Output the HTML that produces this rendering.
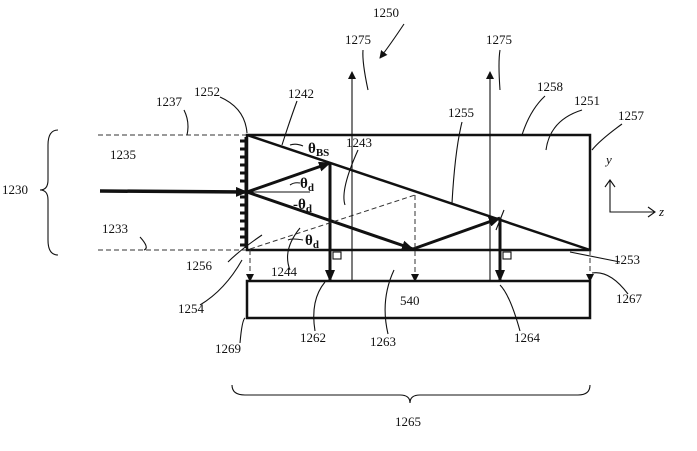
<!DOCTYPE html>
<html><head><style>
body{margin:0;background:#fff}
svg{display:block}
text{font-family:"Liberation Serif",serif;font-size:13px;fill:#111}
.t{stroke:#111;stroke-width:1.1;fill:none}
.k{stroke:#111;stroke-width:3;fill:none}
.m{stroke:#111;stroke-width:2.5;fill:none}
.d{stroke:#333;stroke-width:1;fill:none;stroke-dasharray:5,3}
</style></head><body>
<svg width="697" height="451" viewBox="0 0 697 451" xmlns="http://www.w3.org/2000/svg">
<defs>
<marker id="a" markerWidth="8" markerHeight="8" refX="7" refY="4" orient="auto" markerUnits="userSpaceOnUse"><path d="M0,0 L8,4 L0,8z" fill="#111"/></marker>
<marker id="b" markerWidth="12" markerHeight="10" refX="11" refY="5" orient="auto" markerUnits="userSpaceOnUse"><path d="M0,0 L12,5 L0,10z" fill="#111"/></marker>
</defs>
<rect x="247" y="135" width="343" height="115" class="m"/>
<rect x="247" y="281" width="343" height="37" class="m"/>
<text x="400" y="305">540</text>
<line x1="98" y1="135" x2="246" y2="135" class="d"/>
<line x1="98" y1="250" x2="246" y2="250" class="d"/>
<g stroke="#111" stroke-width="3">
<line x1="246" y1="137" x2="246" y2="248"/>
<line x1="240" y1="141" x2="246" y2="141"/><line x1="240" y1="149" x2="246" y2="149"/><line x1="240" y1="157" x2="246" y2="157"/><line x1="240" y1="165" x2="246" y2="165"/><line x1="240" y1="173" x2="246" y2="173"/><line x1="240" y1="181" x2="246" y2="181"/><line x1="240" y1="197" x2="246" y2="197"/><line x1="240" y1="205" x2="246" y2="205"/><line x1="240" y1="213" x2="246" y2="213"/><line x1="240" y1="221" x2="246" y2="221"/><line x1="240" y1="229" x2="246" y2="229"/><line x1="240" y1="237" x2="246" y2="237"/><line x1="240" y1="245" x2="246" y2="245"/>
</g>
<line x1="247" y1="135" x2="590" y2="250" class="m"/>
<line x1="100" y1="191" x2="247" y2="192" class="k" style="stroke-width:3.5" marker-end="url(#b)"/>
<line x1="247" y1="192" x2="330" y2="163" class="k" marker-end="url(#b)"/>
<line x1="247" y1="192" x2="413" y2="249" class="k" marker-end="url(#b)"/>
<line x1="413" y1="249" x2="500" y2="218" class="k" marker-end="url(#b)"/>
<line x1="330" y1="163" x2="330" y2="281" class="k" marker-end="url(#b)"/>
<line x1="500" y1="218" x2="500" y2="281" class="k" marker-end="url(#b)"/>
<line x1="247" y1="192" x2="310" y2="192" class="t"/>
<line x1="250" y1="249" x2="415" y2="195" class="d"/>
<line x1="415" y1="195" x2="415" y2="281" class="d" marker-end="url(#a)"/>
<line x1="250" y1="250" x2="250" y2="281" class="d" marker-end="url(#a)"/>
<line x1="590" y1="250" x2="590" y2="281" class="d" marker-end="url(#a)"/>
<rect x="333" y="252" width="8" height="7" class="t"/>
<rect x="503" y="252" width="8" height="7" class="t"/>
<line x1="352" y1="281" x2="352" y2="72" class="t" marker-end="url(#a)"/>
<line x1="490" y1="281" x2="490" y2="72" class="t" marker-end="url(#a)"/>
<line x1="496" y1="230" x2="504" y2="210" class="t"/>
<text x="308" y="153" style="font-size:15px;font-weight:bold">θ<tspan font-size="11" dy="3">BS</tspan></text>
<text x="300" y="188" style="font-size:15px;font-weight:bold">θ<tspan font-size="11" dy="3">d</tspan></text>
<text x="293" y="209" style="font-size:15px;font-weight:bold">-θ<tspan font-size="11" dy="3">d</tspan></text>
<text x="305" y="245" style="font-size:15px;font-weight:bold">θ<tspan font-size="11" dy="3">d</tspan></text>
<path d="M290,145 Q296,143 303,146" class="t"/>
<path d="M290,185 Q294,182 300,183" class="t"/>
<path d="M288,240 Q292,238 303,240" class="t"/>
<path d="M610,180 L610,212 L655,212" class="t"/>
<path d="M605,187 L610,180 L615,187" class="t"/>
<path d="M648,207 L655,212 L648,217" class="t"/>
<text x="606" y="164" style="font-style:italic">y</text>
<text x="659" y="216" style="font-style:italic">z</text>
<path d="M58,130 Q48,130 48,145 L48,180 Q48,190 40,190 Q48,190 48,200 L48,240 Q48,255 58,255" class="t"/>
<path d="M232,385 Q232,395 245,395 L400,395 Q410,395 410,403 Q410,395 420,395 L578,395 Q590,395 590,385" class="t"/>
<text x="2" y="194">1230</text>
<text x="110" y="159">1235</text>
<text x="156" y="106">1237</text>
<text x="194" y="96">1252</text>
<text x="288" y="98">1242</text>
<text x="345" y="44">1275</text>
<text x="373" y="17">1250</text>
<text x="486" y="44">1275</text>
<text x="346" y="147">1243</text>
<text x="448" y="117">1255</text>
<text x="537" y="91">1258</text>
<text x="574" y="105">1251</text>
<text x="618" y="120">1257</text>
<text x="102" y="233">1233</text>
<text x="186" y="270">1256</text>
<text x="271" y="276">1244</text>
<text x="178" y="313">1254</text>
<text x="215" y="353">1269</text>
<text x="300" y="342">1262</text>
<text x="370" y="346">1263</text>
<text x="514" y="342">1264</text>
<text x="614" y="264">1253</text>
<text x="616" y="303">1267</text>
<text x="395" y="426">1265</text>
<path d="M184,110 Q190,122 187,135" class="t"/>
<path d="M220,97 Q245,108 247,133" class="t"/>
<path d="M297,101 Q290,120 282,145" class="t"/>
<path d="M363,50 Q362,62 368,90" class="t"/>
<path d="M404,24 Q390,45 380,58" class="t" marker-end="url(#a)"/>
<path d="M500,50 Q498,62 500,90" class="t"/>
<path d="M358,150 Q340,190 345,205" class="t"/>
<path d="M462,122 Q455,150 452,203" class="t"/>
<path d="M545,96 Q530,110 522,135" class="t"/>
<path d="M582,110 Q550,120 546,150" class="t"/>
<path d="M622,124 Q600,140 592,150" class="t"/>
<path d="M140,237 Q150,248 144,250" class="t"/>
<path d="M228,262 Q240,250 262,235" class="t"/>
<path d="M290,270 Q282,250 300,228" class="t"/>
<path d="M200,305 Q225,290 242,260" class="t"/>
<path d="M240,343 Q242,320 245,318" class="t"/>
<path d="M315,331 Q310,300 325,282" class="t"/>
<path d="M388,334 Q380,300 394,270" class="t"/>
<path d="M520,331 Q510,295 500,285" class="t"/>
<path d="M620,262 Q600,258 570,252" class="t"/>
<path d="M628,294 Q610,270 592,273" class="t"/>
</svg>
</body></html>
